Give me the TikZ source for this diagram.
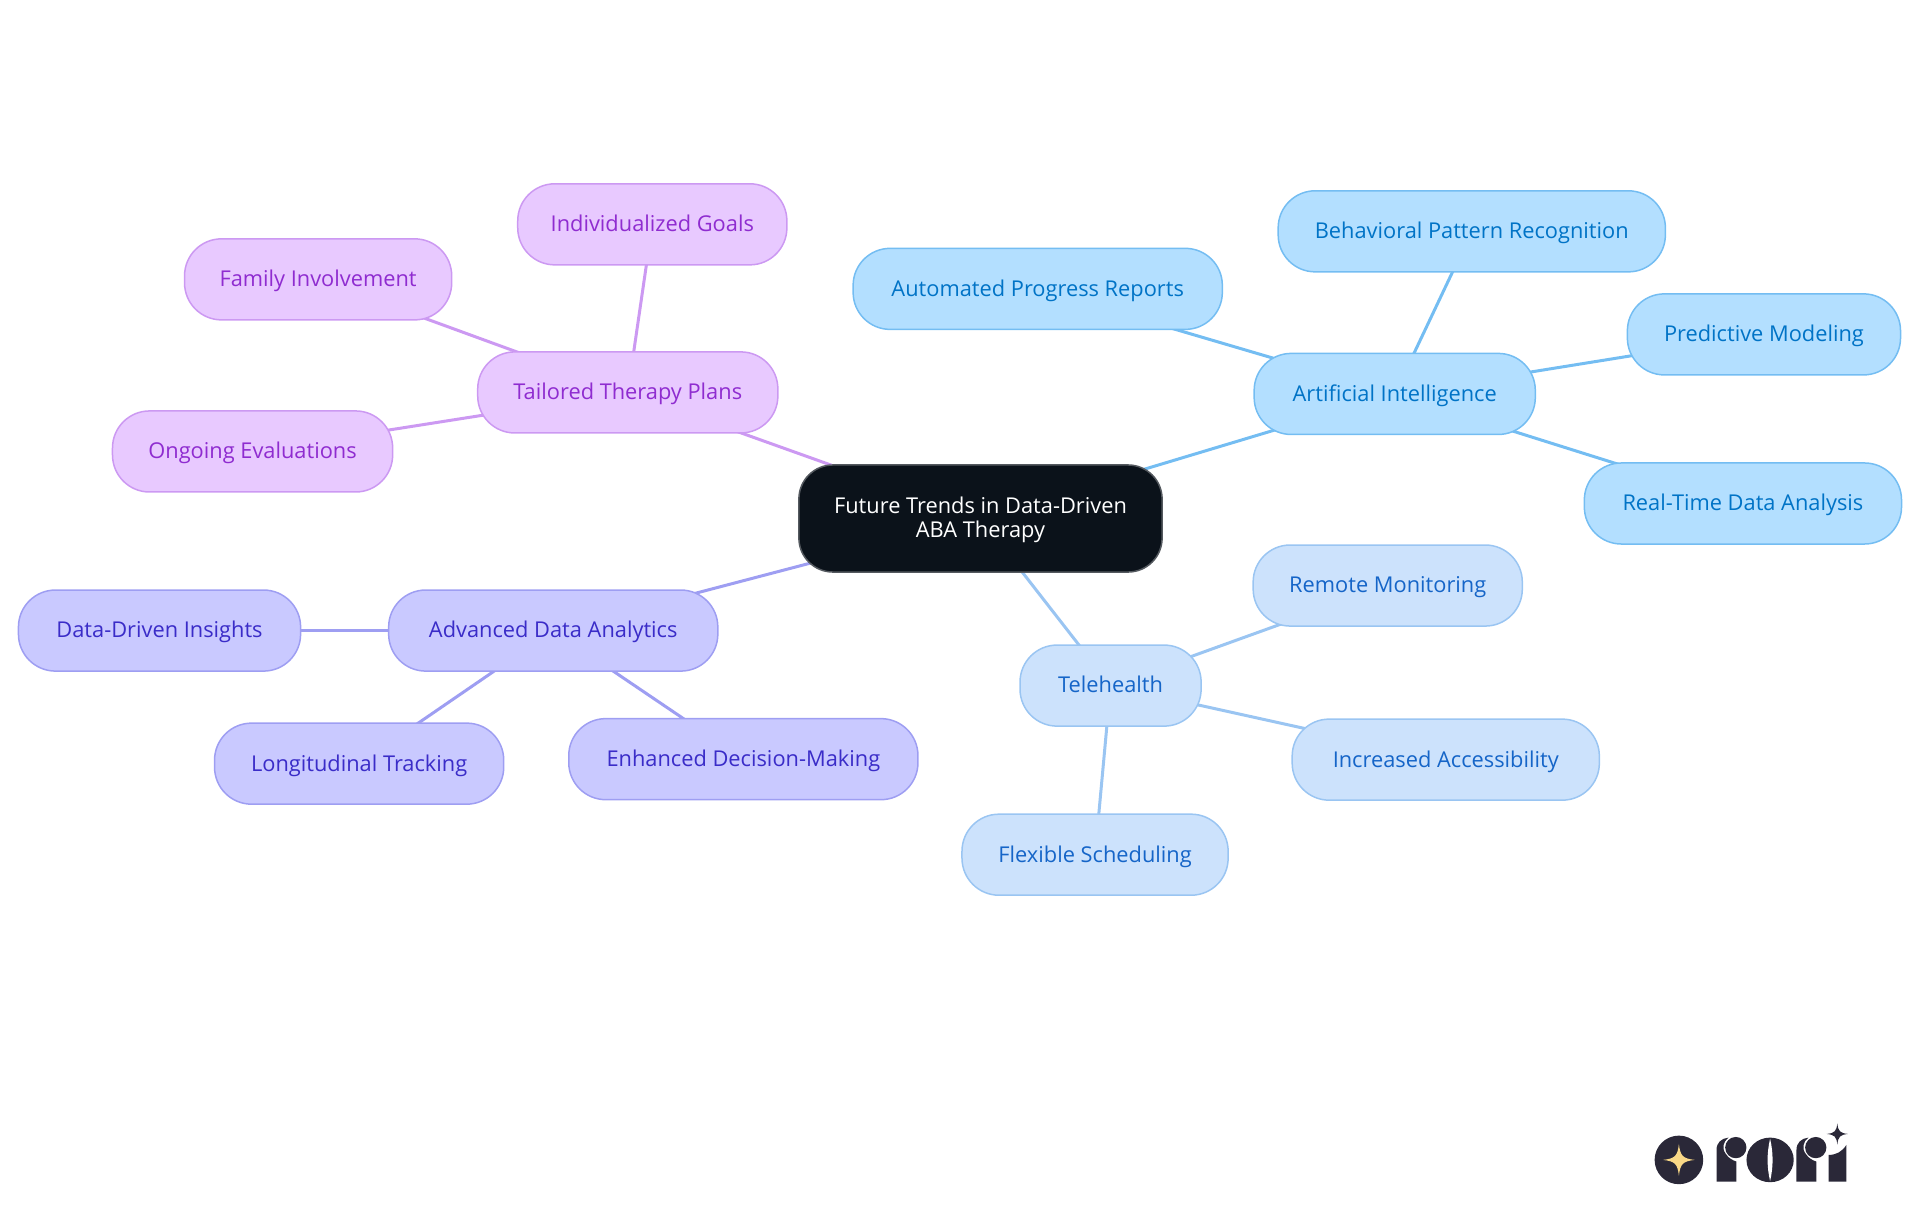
\documentclass[tikz,border=0pt]{standalone}
\usepackage{fontspec}
\usepackage{xcolor}
\setmainfont{Open Sans}
\usetikzlibrary{positioning,backgrounds}
\definecolor{mapRoot}{HTML}{0B121A}
\definecolor{aiFill}{HTML}{B3DFFF}
\definecolor{aiLine}{HTML}{74BDF2}
\definecolor{aiText}{HTML}{0073C6}
\definecolor{teleFill}{HTML}{CCE2FC}
\definecolor{teleLine}{HTML}{9AC5F2}
\definecolor{teleText}{HTML}{1565C8}
\definecolor{dataFill}{HTML}{C9C9FF}
\definecolor{dataLine}{HTML}{9E9EF2}
\definecolor{dataText}{HTML}{3A2CC8}
\definecolor{planFill}{HTML}{E8C9FF}
\definecolor{planLine}{HTML}{CC99F2}
\definecolor{planText}{HTML}{8F2CD0}
\definecolor{logoInk}{HTML}{2A2838}
\definecolor{logoStar}{HTML}{F9D887}
\tikzset{sparkle/.pic={\path[pic actions] (0,-1) .. controls (.08,-.25) and (.25,-.08) .. (1,0) .. controls (.25,.08) and (.08,.25) .. (0,1) .. controls (-.08,.25) and (-.25,.08) .. (-1,0) .. controls (-.25,-.08) and (-.08,-.25) .. (0,-1) -- cycle;}}

\begin{document}
\begin{tikzpicture}[
x=0.01cm, y=-0.01cm,
on grid,
every node/.style={font=\fontsize{6.2}{6.9}\selectfont},
mapnode/.style={draw, rounded corners=3.7mm, align=center, inner sep=0pt, outer sep=0pt, line width=0.15mm, minimum height=8.1mm, text height=5.7pt, text depth=1.5pt},
rootN/.style={draw, rounded corners=3.4mm, align=center, inner sep=0pt, outer sep=0pt, line width=0.15mm, draw=mapRoot!70!white, fill=mapRoot, text=white, minimum height=10.7mm, minimum width=36.3mm},
aiN/.style={mapnode, draw=aiLine, fill=aiFill, text=aiText},
teleN/.style={mapnode, draw=teleLine, fill=teleFill, text=teleText},
dataN/.style={mapnode, draw=dataLine, fill=dataFill, text=dataText},
planN/.style={mapnode, draw=planLine, fill=planFill, text=planText},
aiLink/.style={draw=aiLine, line width=0.3mm},
teleLink/.style={draw=teleLine, line width=0.3mm},
dataLink/.style={draw=dataLine, line width=0.3mm},
planLink/.style={draw=planLine, line width=0.3mm}
]
\useasboundingbox (0,0) rectangle (1920,1215);

% Centre
\node[rootN] (root) at (980.5,518.5) {\rule{0pt}{5.4pt}Future Trends in Data-Driven\\ABA Therapy};

% Artificial intelligence branch
\node[aiN, minimum width=28.1mm, above right=12.45mm and 41.4mm of root] (ai) {Artificial Intelligence};
\node[aiN, minimum width=36.9mm, above left=10.5mm and 35.68mm of ai] (reports) {Automated Progress Reports};
\node[aiN, minimum width=38.7mm, above right=16.25mm and 7.7mm of ai] (patterns) {Behavioral Pattern Recognition};
\node[aiN, minimum width=27.3mm, above right=5.95mm and 36.9mm of ai] (predictive) {Predictive Modeling};
\node[aiN, minimum width=31.7mm, below right=10.95mm and 34.8mm of ai] (realtime) {Real-Time Data Analysis};

% Telehealth branch
\node[teleN, minimum width=18.1mm, below right=16.7mm and 13mm of root] (tele) {Telehealth};
\node[teleN, minimum width=26.9mm, above right=10mm and 27.7mm of tele] (remote) {Remote Monitoring};
\node[teleN, minimum width=30.7mm, below right=7.4mm and 33.5mm of tele] (access) {Increased Accessibility};
\node[teleN, minimum width=26.6mm, below left=16.9mm and 1.55mm of tele] (flexible) {Flexible Scheduling};

% Data analytics branch
\node[dataN, minimum width=32.9mm, below left=11.2mm and 42.7mm of root] (analytics) {Advanced Data Analytics};
\node[dataN, minimum width=28.2mm, left=39.35mm of analytics] (insights) {Data-Driven Insights};
\node[dataN, minimum width=28.9mm, below left=13.3mm and 19.4mm of analytics] (tracking) {Longitudinal Tracking};
\node[dataN, minimum width=34.9mm, below right=12.85mm and 19mm of analytics] (decisions) {Enhanced Decision-Making};

% Therapy plans branch
\node[planN, minimum width=30mm, above left=12.6mm and 35.25mm of root] (plans) {Tailored Therapy Plans};
\node[planN, minimum width=28mm, below left=5.9mm and 37.5mm of plans] (evals) {Ongoing Evaluations};
\node[planN, minimum width=26.7mm, above left=11.3mm and 30.95mm of plans] (family) {Family Involvement};
\node[planN, minimum width=26.9mm, above right=16.8mm and 2.45mm of plans] (goals) {Individualized Goals};

% Links go behind the boxes
\begin{pgfonlayer}{background}
\draw[aiLink] (root.center) -- (ai.center);
\foreach \leaf in {reports,patterns,predictive,realtime} \draw[aiLink] (ai.center) -- (\leaf.center);
\draw[teleLink] (root.center) -- (tele.center);
\foreach \leaf in {remote,access,flexible} \draw[teleLink] (tele.center) -- (\leaf.center);
\draw[dataLink] (root.center) -- (analytics.center);
\foreach \leaf in {insights,tracking,decisions} \draw[dataLink] (analytics.center) -- (\leaf.center);
\draw[planLink] (root.center) -- (plans.center);
\foreach \leaf in {evals,family,goals} \draw[planLink] (plans.center) -- (\leaf.center);
\end{pgfonlayer}

% Logo, in thirds of a pixel
\begin{scope}[shift={(1620,1100)}, x=0.00333cm, y=-0.00333cm]
\fill[logoInk] (177,180) circle [radius=73];
\pic[fill=logoStar, shift={(177,180)}, scale=48] {sparkle};
\foreach \dx in {0,240} {
  \fill[logoInk, xshift=\dx*0.0333mm] (290,245) -- (290,150) .. controls (290,128) and (305,115) .. (326,113) .. controls (310,125) and (305,145) .. (318,162) .. controls (326,175) and (340,182) .. (350,185) -- (350,245) -- cycle;
  \fill[logoInk, xshift=\dx*0.0333mm] (348,143) circle [radius=32];
}
\fill[logoInk] (451,180) ellipse [x radius=71, y radius=67];
\fill[white] (451,116) .. controls (441,160) and (441,200) .. (451,244) .. controls (461,200) and (461,160) .. (451,116) -- cycle;
\fill[logoInk] (627,245) -- (627,165) .. controls (650,165) and (668,155) .. (680,135) -- (680,245) -- cycle;
\pic[fill=logoInk, shift={(653,102)}, scale=32] {sparkle};
\end{scope}
\end{tikzpicture}
\end{document}
